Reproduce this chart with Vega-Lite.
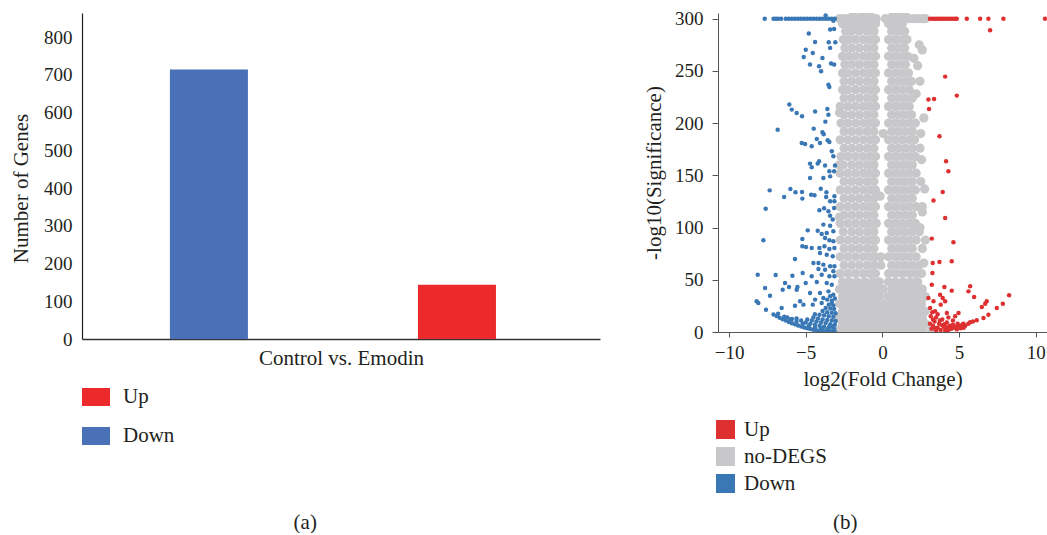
{
"$schema": "https://vega.github.io/schema/vega-lite/v6.json",
"padding": {"left": 10, "top": 9, "right": 0, "bottom": 0},
"background": "white",
"spacing": 118,
"bounds": "flush",
"resolve": {"scale": {"color": "independent"}, "legend": {"color": "independent"}},
"config": {
  "view": {"stroke": null},
  "font": "Liberation Serif",
  "style": {"guide-label": {"font": "Liberation Serif"}, "guide-title": {"font": "Liberation Serif"}},
  "axis": {"labelFont": "Liberation Serif", "titleFont": "Liberation Serif", "labelColor": "#231f20", "titleColor": "#231f20", "titleFontWeight": "normal", "grid": false},
  "legend": {"labelFont": "Liberation Serif", "labelColor": "#231f20"},
  "title": {"font": "Liberation Serif", "fontWeight": "normal", "fontSize": 21, "color": "#231f20"}
},
"datasets": {
  "bars": [
    {"group": "Control vs. Emodin", "reg": "Down", "genes": 714},
    {"group": "Control vs. Emodin", "reg": "Up", "genes": 144}
  ],
  "grey": [
    {"x":-2.8,"y":2},{"x":-2.35,"y":2},{"x":-1.9,"y":2},{"x":-1.4,"y":2},{"x":-0.9,"y":2},{"x":-0.4,"y":2},{"x":0.1,"y":2},{"x":0.6,"y":2},{"x":1.1,"y":2},{"x":1.6,"y":2},{"x":2.1,"y":2},{"x":2.6,"y":2},{"x":3.2,"y":2},
    {"x":-2.6,"y":8},{"x":-2.15,"y":8},{"x":-1.65,"y":8},{"x":-1.15,"y":8},{"x":-0.65,"y":8},{"x":-0.15,"y":8},{"x":0.35,"y":8},{"x":0.85,"y":8},{"x":1.35,"y":8},{"x":1.85,"y":8},{"x":2.35,"y":8},{"x":2.8,"y":8},
    {"x":-2.8,"y":14},{"x":-2.4,"y":14},{"x":-1.9,"y":14},{"x":-1.4,"y":14},{"x":-0.9,"y":14},{"x":-0.4,"y":14},{"x":0.1,"y":14},{"x":0.6,"y":14},{"x":1.1,"y":14},{"x":1.6,"y":14},{"x":2.1,"y":14},{"x":2.6,"y":14},
    {"x":-2.6,"y":20},{"x":-2.15,"y":20},{"x":-1.65,"y":20},{"x":-1.15,"y":20},{"x":-0.65,"y":20},{"x":-0.15,"y":20},{"x":0.35,"y":20},{"x":0.85,"y":20},{"x":1.35,"y":20},{"x":1.85,"y":20},{"x":2.35,"y":20},{"x":2.8,"y":20},
    {"x":-2.8,"y":27},{"x":-2.4,"y":27},{"x":-1.9,"y":27},{"x":-1.4,"y":27},{"x":-0.9,"y":27},{"x":-0.4,"y":27},{"x":0.1,"y":27},{"x":0.6,"y":27},{"x":1.1,"y":27},{"x":1.6,"y":27},{"x":2.1,"y":27},{"x":2.55,"y":27},
    {"x":-2.6,"y":34},{"x":-2.15,"y":34},{"x":-1.65,"y":34},{"x":-1.15,"y":34},{"x":-0.65,"y":34},{"x":-0.2,"y":34},{"x":0.35,"y":34},{"x":0.85,"y":34},{"x":1.35,"y":34},{"x":1.85,"y":34},{"x":2.3,"y":34},{"x":2.8,"y":34},
    {"x":-2.8,"y":41},{"x":-2.4,"y":41},{"x":-1.9,"y":41},{"x":-1.4,"y":41},{"x":-0.9,"y":41},{"x":-0.45,"y":41},{"x":0.05,"y":41},{"x":0.6,"y":41},{"x":1.1,"y":41},{"x":1.6,"y":41},{"x":2.1,"y":41},{"x":2.6,"y":41},
    {"x":-2.6,"y":48},{"x":-2.15,"y":48},{"x":-1.65,"y":48},{"x":-1.15,"y":48},{"x":-0.65,"y":48},{"x":-0.2,"y":48},{"x":0.4,"y":48},{"x":0.85,"y":48},{"x":1.35,"y":48},{"x":1.85,"y":48},{"x":2.3,"y":48},
    {"x":-2.75,"y":56},{"x":-2.25,"y":56},{"x":-1.75,"y":56},{"x":-1.25,"y":56},{"x":-0.8,"y":56},{"x":-0.45,"y":56},{"x":0.4,"y":56},{"x":0.85,"y":56},{"x":1.3,"y":56},{"x":1.75,"y":56},{"x":2.15,"y":56},{"x":2.55,"y":56},
    {"x":-2.5,"y":64},{"x":-2.0,"y":64},{"x":-1.5,"y":64},{"x":-1.0,"y":64},{"x":-0.55,"y":64},{"x":-0.1,"y":64},{"x":0.6,"y":64},{"x":1.05,"y":64},{"x":1.5,"y":64},{"x":1.95,"y":64},{"x":2.4,"y":64},
    {"x":-2.75,"y":72},{"x":-2.25,"y":72},{"x":-1.75,"y":72},{"x":-1.25,"y":72},{"x":-0.8,"y":72},{"x":-0.45,"y":72},{"x":0.4,"y":72},{"x":0.85,"y":72},{"x":1.3,"y":72},{"x":1.75,"y":72},{"x":2.2,"y":72},
    {"x":-2.5,"y":80},{"x":-2.0,"y":80},{"x":-1.5,"y":80},{"x":-1.0,"y":80},{"x":-0.55,"y":80},{"x":0.6,"y":80},{"x":1.05,"y":80},{"x":1.5,"y":80},{"x":1.95,"y":80},{"x":2.6,"y":80},
    {"x":-2.75,"y":88},{"x":-2.25,"y":88},{"x":-1.75,"y":88},{"x":-1.25,"y":88},{"x":-0.8,"y":88},{"x":-0.45,"y":88},{"x":0.4,"y":88},{"x":0.85,"y":88},{"x":1.3,"y":88},{"x":1.75,"y":88},{"x":2.2,"y":88},
    {"x":-2.55,"y":96},{"x":-2.0,"y":96},{"x":-1.5,"y":96},{"x":-1.0,"y":96},{"x":-0.55,"y":96},{"x":0.6,"y":96},{"x":1.05,"y":96},{"x":1.5,"y":96},{"x":1.95,"y":96},{"x":2.4,"y":96},
    {"x":-2.75,"y":104},{"x":-2.25,"y":104},{"x":-1.75,"y":104},{"x":-1.25,"y":104},{"x":-0.8,"y":104},{"x":-0.4,"y":104},{"x":0.4,"y":104},{"x":0.85,"y":104},{"x":1.3,"y":104},{"x":1.75,"y":104},{"x":2.15,"y":104},
    {"x":-2.5,"y":112},{"x":-2.0,"y":112},{"x":-1.5,"y":112},{"x":-1.0,"y":112},{"x":-0.55,"y":112},{"x":0.6,"y":112},{"x":1.05,"y":112},{"x":1.5,"y":112},{"x":1.95,"y":112},
    {"x":-2.75,"y":120},{"x":-2.25,"y":120},{"x":-1.75,"y":120},{"x":-1.25,"y":120},{"x":-0.8,"y":120},{"x":-0.45,"y":120},{"x":0.4,"y":120},{"x":0.85,"y":120},{"x":1.3,"y":120},{"x":1.75,"y":120},{"x":2.2,"y":120},{"x":2.6,"y":120},
    {"x":-2.5,"y":128},{"x":-2.0,"y":128},{"x":-1.5,"y":128},{"x":-1.0,"y":128},{"x":-0.55,"y":128},{"x":0.6,"y":128},{"x":1.05,"y":128},{"x":1.5,"y":128},{"x":1.95,"y":128},
    {"x":-2.75,"y":136},{"x":-2.25,"y":136},{"x":-1.75,"y":136},{"x":-1.25,"y":136},{"x":-0.8,"y":136},{"x":-0.45,"y":136},{"x":0.4,"y":136},{"x":0.85,"y":136},{"x":1.3,"y":136},{"x":1.75,"y":136},{"x":2.15,"y":136},
    {"x":-2.5,"y":144},{"x":-2.0,"y":144},{"x":-1.5,"y":144},{"x":-1.0,"y":144},{"x":-0.55,"y":144},{"x":0.6,"y":144},{"x":1.05,"y":144},{"x":1.5,"y":144},{"x":1.95,"y":144},{"x":2.5,"y":144},
    {"x":-2.75,"y":152},{"x":-2.25,"y":152},{"x":-1.75,"y":152},{"x":-1.25,"y":152},{"x":-0.8,"y":152},{"x":-0.45,"y":152},{"x":0.4,"y":152},{"x":0.85,"y":152},{"x":1.3,"y":152},{"x":1.75,"y":152},{"x":2.2,"y":152},
    {"x":-2.55,"y":160},{"x":-2.0,"y":160},{"x":-1.5,"y":160},{"x":-1.0,"y":160},{"x":-0.55,"y":160},{"x":0.6,"y":160},{"x":1.05,"y":160},{"x":1.5,"y":160},{"x":1.95,"y":160},
    {"x":-2.7,"y":168},{"x":-2.25,"y":168},{"x":-1.75,"y":168},{"x":-1.25,"y":168},{"x":-0.8,"y":168},{"x":-0.45,"y":168},{"x":0.4,"y":168},{"x":0.85,"y":168},{"x":1.3,"y":168},{"x":1.75,"y":168},{"x":2.15,"y":168},
    {"x":-2.5,"y":176},{"x":-2.0,"y":176},{"x":-1.5,"y":176},{"x":-1.0,"y":176},{"x":-0.55,"y":176},{"x":0.6,"y":176},{"x":1.05,"y":176},{"x":1.5,"y":176},{"x":1.95,"y":176},{"x":2.45,"y":176},
    {"x":-2.75,"y":184},{"x":-2.25,"y":184},{"x":-1.75,"y":184},{"x":-1.25,"y":184},{"x":-0.8,"y":184},{"x":-0.45,"y":184},{"x":0.4,"y":184},{"x":0.85,"y":184},{"x":1.3,"y":184},{"x":1.75,"y":184},{"x":2.1,"y":184},
    {"x":-2.5,"y":192},{"x":-2.0,"y":192},{"x":-1.5,"y":192},{"x":-1.0,"y":192},{"x":-0.55,"y":192},{"x":0.6,"y":192},{"x":1.05,"y":192},{"x":1.5,"y":192},{"x":1.95,"y":192},
    {"x":-2.7,"y":200},{"x":-2.25,"y":200},{"x":-1.75,"y":200},{"x":-1.25,"y":200},{"x":-0.8,"y":200},{"x":-0.45,"y":200},{"x":0.4,"y":200},{"x":0.85,"y":200},{"x":1.3,"y":200},{"x":1.75,"y":200},{"x":2.15,"y":200},
    {"x":-2.5,"y":208},{"x":-2.0,"y":208},{"x":-1.5,"y":208},{"x":-1.0,"y":208},{"x":-0.55,"y":208},{"x":0.6,"y":208},{"x":1.05,"y":208},{"x":1.5,"y":208},{"x":1.9,"y":208},
    {"x":-2.75,"y":216},{"x":-2.25,"y":216},{"x":-1.75,"y":216},{"x":-1.25,"y":216},{"x":-0.8,"y":216},{"x":-0.45,"y":216},{"x":0.4,"y":216},{"x":0.85,"y":216},{"x":1.3,"y":216},{"x":1.75,"y":216},
    {"x":-2.5,"y":224},{"x":-2.0,"y":224},{"x":-1.5,"y":224},{"x":-1.0,"y":224},{"x":-0.55,"y":224},{"x":0.6,"y":224},{"x":1.05,"y":224},{"x":1.5,"y":224},{"x":1.95,"y":224},
    {"x":-2.6,"y":232},{"x":-2.25,"y":232},{"x":-1.75,"y":232},{"x":-1.25,"y":232},{"x":-0.8,"y":232},{"x":-0.45,"y":232},{"x":0.4,"y":232},{"x":0.85,"y":232},{"x":1.3,"y":232},{"x":1.75,"y":232},
    {"x":-2.5,"y":240},{"x":-2.0,"y":240},{"x":-1.5,"y":240},{"x":-1.0,"y":240},{"x":-0.55,"y":240},{"x":0.6,"y":240},{"x":1.05,"y":240},{"x":1.5,"y":240},{"x":1.9,"y":240},
    {"x":-2.6,"y":248},{"x":-2.25,"y":248},{"x":-1.75,"y":248},{"x":-1.25,"y":248},{"x":-0.8,"y":248},{"x":-0.45,"y":248},{"x":0.4,"y":248},{"x":0.85,"y":248},{"x":1.3,"y":248},{"x":1.7,"y":248},
    {"x":-2.45,"y":256},{"x":-2.0,"y":256},{"x":-1.5,"y":256},{"x":-1.0,"y":256},{"x":-0.55,"y":256},{"x":0.6,"y":256},{"x":1.05,"y":256},{"x":1.5,"y":256},
    {"x":-2.6,"y":264},{"x":-2.2,"y":264},{"x":-1.75,"y":264},{"x":-1.25,"y":264},{"x":-0.8,"y":264},{"x":-0.45,"y":264},{"x":0.4,"y":264},{"x":0.85,"y":264},{"x":1.3,"y":264},{"x":1.65,"y":264},
    {"x":-2.45,"y":272},{"x":-2.0,"y":272},{"x":-1.5,"y":272},{"x":-1.0,"y":272},{"x":-0.55,"y":272},{"x":0.6,"y":272},{"x":1.05,"y":272},{"x":1.45,"y":272},
    {"x":-2.55,"y":280},{"x":-2.2,"y":280},{"x":-1.75,"y":280},{"x":-1.25,"y":280},{"x":-0.8,"y":280},{"x":-0.45,"y":280},{"x":0.4,"y":280},{"x":0.85,"y":280},{"x":1.3,"y":280},{"x":1.6,"y":280},
    {"x":-2.4,"y":288},{"x":-2.0,"y":288},{"x":-1.5,"y":288},{"x":-1.0,"y":288},{"x":-0.55,"y":288},{"x":0.6,"y":288},{"x":1.05,"y":288},{"x":1.45,"y":288},
    {"x":-2.6,"y":295},{"x":-2.2,"y":295},{"x":-1.75,"y":295},{"x":-1.25,"y":295},{"x":-0.8,"y":295},{"x":-0.45,"y":295},{"x":0.4,"y":295},{"x":0.85,"y":295},{"x":1.3,"y":295},
    {"x":-2.8,"y":300},{"x":-2.5,"y":300},{"x":-2.2,"y":300},{"x":-1.9,"y":300},{"x":-1.6,"y":300},{"x":-1.3,"y":300},{"x":-1.0,"y":300},{"x":-0.7,"y":300},{"x":-0.4,"y":300},{"x":0.2,"y":300},{"x":0.5,"y":300},{"x":0.8,"y":300},{"x":1.1,"y":300},{"x":1.4,"y":300},{"x":1.7,"y":300},{"x":2.0,"y":300},{"x":2.3,"y":300},{"x":2.6,"y":300},{"x":2.8,"y":300},
    {"x":-1.9,"y":303},{"x":-1.3,"y":303},{"x":-0.8,"y":303},{"x":0.7,"y":303},{"x":1.1,"y":303},{"x":1.5,"y":303},
    {"x":2.4,"y":275},{"x":2.6,"y":270},{"x":2.3,"y":255},{"x":2.45,"y":240},{"x":2.7,"y":205},{"x":2.5,"y":190},{"x":2.55,"y":165},{"x":2.75,"y":137},{"x":2.6,"y":115},{"x":2.45,"y":100},{"x":2.8,"y":88},{"x":2.7,"y":66},{"x":2.2,"y":228},{"x":2.05,"y":262},{"x":-0.15,"y":130},{"x":0.05,"y":190},{"x":-0.1,"y":72},{"x":-2.8,"y":160},{"x":-2.8,"y":110},{"x":-2.8,"y":210}
  ],
  "degs": [
    {"x":-7.67,"y":300,"t":"Down"},{"x":-7.1,"y":300,"t":"Down"},{"x":-6.95,"y":300,"t":"Down"},{"x":-6.8,"y":300,"t":"Down"},{"x":-6.6,"y":300,"t":"Down"},{"x":-6.3,"y":300,"t":"Down"},{"x":-6.1,"y":300,"t":"Down"},{"x":-5.9,"y":300,"t":"Down"},{"x":-5.7,"y":300,"t":"Down"},{"x":-5.5,"y":300,"t":"Down"},{"x":-5.3,"y":300,"t":"Down"},{"x":-5.1,"y":300,"t":"Down"},{"x":-4.9,"y":300,"t":"Down"},{"x":-4.7,"y":300,"t":"Down"},{"x":-4.5,"y":300,"t":"Down"},{"x":-4.3,"y":300,"t":"Down"},{"x":-4.1,"y":300,"t":"Down"},{"x":-3.9,"y":300,"t":"Down"},{"x":-3.7,"y":300,"t":"Down"},{"x":-3.5,"y":300,"t":"Down"},{"x":-3.3,"y":300,"t":"Down"},{"x":-3.1,"y":300,"t":"Down"},{"x":-3.7,"y":303,"t":"Down"},{"x":-3.2,"y":298,"t":"Down"},
    {"x":-4.8,"y":285.7,"t":"Down"},{"x":-4.39,"y":277.7,"t":"Down"},{"x":-5.0,"y":270.3,"t":"Down"},{"x":-4.54,"y":267.2,"t":"Down"},{"x":-5.13,"y":263.3,"t":"Down"},{"x":-4.72,"y":256,"t":"Down"},{"x":-3.91,"y":262.4,"t":"Down"},{"x":-4.13,"y":254.4,"t":"Down"},{"x":-4.0,"y":249.6,"t":"Down"},{"x":-3.41,"y":289.5,"t":"Down"},{"x":-3.15,"y":290,"t":"Down"},{"x":-3.5,"y":277.4,"t":"Down"},{"x":-3.07,"y":277.4,"t":"Down"},{"x":-3.41,"y":272,"t":"Down"},{"x":-3.35,"y":257,"t":"Down"},{"x":-3.15,"y":256,"t":"Down"},{"x":-3.52,"y":236.8,"t":"Down"},{"x":-3.46,"y":234.6,"t":"Down"},
    {"x":-6.07,"y":217.7,"t":"Down"},{"x":-5.91,"y":212.9,"t":"Down"},{"x":-5.59,"y":209.7,"t":"Down"},{"x":-5.24,"y":206.5,"t":"Down"},{"x":-4.39,"y":211,"t":"Down"},{"x":-3.59,"y":213.5,"t":"Down"},{"x":-3.52,"y":208,"t":"Down"},{"x":-3.72,"y":201.4,"t":"Down"},{"x":-6.83,"y":193.7,"t":"Down"},{"x":-4.48,"y":194.7,"t":"Down"},{"x":-3.91,"y":191.2,"t":"Down"},{"x":-3.83,"y":189.3,"t":"Down"},{"x":-4.28,"y":184.8,"t":"Down"},{"x":-4.07,"y":181,"t":"Down"},{"x":-3.57,"y":183.5,"t":"Down"},{"x":-3.46,"y":182,"t":"Down"},{"x":-5.26,"y":181,"t":"Down"},{"x":-5.04,"y":180,"t":"Down"},{"x":-4.61,"y":177.8,"t":"Down"},{"x":-3.3,"y":173,"t":"Down"},{"x":-3.2,"y":168.2,"t":"Down"},{"x":-4.13,"y":163.4,"t":"Down"},{"x":-4.72,"y":161.2,"t":"Down"},{"x":-4.22,"y":161.2,"t":"Down"},{"x":-4.61,"y":157.7,"t":"Down"},{"x":-3.74,"y":159.3,"t":"Down"},{"x":-3.09,"y":159.3,"t":"Down"},{"x":-3.46,"y":153.8,"t":"Down"},{"x":-3.15,"y":153.8,"t":"Down"},{"x":-4.72,"y":147.5,"t":"Down"},{"x":-3.85,"y":147.5,"t":"Down"},{"x":-3.41,"y":149,"t":"Down"},
    {"x":-7.35,"y":135.6,"t":"Down"},{"x":-6.0,"y":136.9,"t":"Down"},{"x":-5.67,"y":133.7,"t":"Down"},{"x":-5.24,"y":134,"t":"Down"},{"x":-6.41,"y":129.3,"t":"Down"},{"x":-5.22,"y":127.7,"t":"Down"},{"x":-4.65,"y":131.5,"t":"Down"},{"x":-4.43,"y":130.9,"t":"Down"},{"x":-4.02,"y":137.2,"t":"Down"},{"x":-3.65,"y":133.7,"t":"Down"},{"x":-3.67,"y":129.3,"t":"Down"},{"x":-3.13,"y":129.9,"t":"Down"},{"x":-3.41,"y":125.1,"t":"Down"},{"x":-3.13,"y":125.1,"t":"Down"},{"x":-7.61,"y":118.1,"t":"Down"},{"x":-4.11,"y":116.5,"t":"Down"},{"x":-3.8,"y":118.4,"t":"Down"},{"x":-3.52,"y":115.5,"t":"Down"},{"x":-3.15,"y":118.7,"t":"Down"},{"x":-3.41,"y":111.4,"t":"Down"},{"x":-3.24,"y":107.6,"t":"Down"},{"x":-3.85,"y":102.8,"t":"Down"},{"x":-3.41,"y":101.8,"t":"Down"},{"x":-4.87,"y":97.3,"t":"Down"},{"x":-4.22,"y":97,"t":"Down"},{"x":-3.96,"y":93.8,"t":"Down"},{"x":-3.63,"y":94.8,"t":"Down"},{"x":-3.2,"y":96.4,"t":"Down"},{"x":-7.76,"y":87.8,"t":"Down"},{"x":-5.22,"y":89,"t":"Down"},{"x":-3.74,"y":90,"t":"Down"},{"x":-3.46,"y":87.8,"t":"Down"},{"x":-3.2,"y":86.8,"t":"Down"},
    {"x":-5.22,"y":82,"t":"Down"},{"x":-4.98,"y":81.4,"t":"Down"},{"x":-4.61,"y":80.4,"t":"Down"},{"x":-4.11,"y":80.4,"t":"Down"},{"x":-3.78,"y":82,"t":"Down"},{"x":-3.46,"y":79.5,"t":"Down"},{"x":-3.13,"y":80.4,"t":"Down"},{"x":-4.07,"y":75.6,"t":"Down"},{"x":-3.63,"y":74,"t":"Down"},{"x":-3.24,"y":72.5,"t":"Down"},{"x":-5.7,"y":69.9,"t":"Down"},{"x":-4.5,"y":66.1,"t":"Down"},{"x":-4.17,"y":66.1,"t":"Down"},{"x":-3.85,"y":64.5,"t":"Down"},{"x":-3.41,"y":62.9,"t":"Down"},{"x":-3.13,"y":62.9,"t":"Down"},{"x":-4.17,"y":60.3,"t":"Down"},{"x":-3.74,"y":59.7,"t":"Down"},{"x":-3.2,"y":58.1,"t":"Down"},
    {"x":-8.13,"y":54.9,"t":"Down"},{"x":-6.96,"y":54.6,"t":"Down"},{"x":-5.87,"y":53.9,"t":"Down"},{"x":-5.2,"y":56.5,"t":"Down"},{"x":-4.61,"y":53.3,"t":"Down"},{"x":-3.96,"y":54.9,"t":"Down"},{"x":-3.46,"y":53.3,"t":"Down"},{"x":-3.13,"y":53.3,"t":"Down"},{"x":-7.65,"y":42.1,"t":"Down"},{"x":-6.35,"y":46.9,"t":"Down"},{"x":-6.09,"y":43.1,"t":"Down"},{"x":-5.54,"y":43.1,"t":"Down"},{"x":-5.0,"y":46.9,"t":"Down"},{"x":-4.28,"y":47.9,"t":"Down"},{"x":-3.63,"y":46.9,"t":"Down"},{"x":-3.3,"y":45.3,"t":"Down"},{"x":-7.33,"y":34.8,"t":"Down"},{"x":-6.5,"y":40.5,"t":"Down"},{"x":-8.2,"y":29.4,"t":"Down"},{"x":-8.09,"y":27.8,"t":"Down"},{"x":-5.59,"y":40.5,"t":"Down"},{"x":-4.72,"y":37.3,"t":"Down"},{"x":-4.07,"y":37.3,"t":"Down"},{"x":-3.52,"y":38.9,"t":"Down"},{"x":-3.2,"y":35.7,"t":"Down"},{"x":-5.37,"y":29.4,"t":"Down"},{"x":-4.39,"y":31,"t":"Down"},{"x":-3.85,"y":32.6,"t":"Down"},{"x":-3.41,"y":34.2,"t":"Down"},{"x":-7.59,"y":21.4,"t":"Down"},{"x":-6.57,"y":23,"t":"Down"},{"x":-5.7,"y":25.2,"t":"Down"},{"x":-5.15,"y":26.2,"t":"Down"},{"x":-4.54,"y":26.2,"t":"Down"},{"x":-3.96,"y":27.8,"t":"Down"},{"x":-3.3,"y":27.8,"t":"Down"},
    {"x":-7.1,"y":16.8,"t":"Down"},{"x":-6.9,"y":15.2,"t":"Down"},{"x":-6.7,"y":13.7,"t":"Down"},{"x":-6.5,"y":12.2,"t":"Down"},{"x":-6.3,"y":10.9,"t":"Down"},{"x":-6.1,"y":9.6,"t":"Down"},{"x":-5.9,"y":8.4,"t":"Down"},{"x":-5.7,"y":7.3,"t":"Down"},{"x":-5.5,"y":6.2,"t":"Down"},{"x":-5.3,"y":5.3,"t":"Down"},{"x":-5.1,"y":4.4,"t":"Down"},{"x":-4.9,"y":3.6,"t":"Down"},{"x":-4.7,"y":2.9,"t":"Down"},{"x":-4.5,"y":2.2,"t":"Down"},{"x":-4.3,"y":1.7,"t":"Down"},{"x":-4.1,"y":1.2,"t":"Down"},{"x":-3.9,"y":0.8,"t":"Down"},{"x":-3.7,"y":0.5,"t":"Down"},{"x":-3.5,"y":0.3,"t":"Down"},{"x":-3.3,"y":0.2,"t":"Down"},{"x":-3.1,"y":0.1,"t":"Down"},
    {"x":-6.8,"y":17.5,"t":"Down"},{"x":-6.4,"y":14.5,"t":"Down"},{"x":-6.0,"y":12,"t":"Down"},{"x":-5.6,"y":9.8,"t":"Down"},{"x":-5.2,"y":7.8,"t":"Down"},{"x":-4.8,"y":6,"t":"Down"},{"x":-4.4,"y":4.5,"t":"Down"},{"x":-4.0,"y":3.2,"t":"Down"},{"x":-3.6,"y":2.2,"t":"Down"},{"x":-3.2,"y":1.5,"t":"Down"},
    {"x":-5.0,"y":9,"t":"Down"},{"x":-4.7,"y":8,"t":"Down"},{"x":-4.4,"y":7,"t":"Down"},{"x":-4.1,"y":6,"t":"Down"},{"x":-3.8,"y":5,"t":"Down"},{"x":-3.5,"y":4.5,"t":"Down"},{"x":-3.2,"y":4,"t":"Down"},{"x":-4.9,"y":12,"t":"Down"},{"x":-4.6,"y":11,"t":"Down"},{"x":-4.3,"y":10,"t":"Down"},{"x":-4.0,"y":9,"t":"Down"},{"x":-3.7,"y":8.5,"t":"Down"},{"x":-3.4,"y":7.5,"t":"Down"},{"x":-3.1,"y":7,"t":"Down"},{"x":-4.5,"y":14,"t":"Down"},{"x":-4.2,"y":13,"t":"Down"},{"x":-3.9,"y":12,"t":"Down"},{"x":-3.6,"y":11.5,"t":"Down"},{"x":-3.3,"y":11,"t":"Down"},{"x":-3.05,"y":10.5,"t":"Down"},{"x":-4.4,"y":17,"t":"Down"},{"x":-4.1,"y":16.5,"t":"Down"},{"x":-3.8,"y":16,"t":"Down"},{"x":-3.5,"y":15,"t":"Down"},{"x":-3.2,"y":14.5,"t":"Down"},{"x":-3.9,"y":20,"t":"Down"},{"x":-3.6,"y":19,"t":"Down"},{"x":-3.3,"y":18.5,"t":"Down"},{"x":-3.05,"y":18,"t":"Down"},{"x":-3.7,"y":23,"t":"Down"},{"x":-3.4,"y":22.5,"t":"Down"},{"x":-3.15,"y":22,"t":"Down"},{"x":-3.5,"y":26,"t":"Down"},{"x":-3.2,"y":25.5,"t":"Down"},{"x":-3.3,"y":30,"t":"Down"},{"x":-3.1,"y":32,"t":"Down"},{"x":-3.6,"y":31,"t":"Down"},{"x":-5.6,"y":13,"t":"Down"},{"x":-5.3,"y":11,"t":"Down"},{"x":-6.2,"y":14,"t":"Down"},{"x":-5.9,"y":12.5,"t":"Down"},{"x":-3.5,"y":2.5,"t":"Down"},{"x":-3.9,"y":3.5,"t":"Down"},{"x":-3.3,"y":5.5,"t":"Down"},{"x":-3.15,"y":3,"t":"Down"},
    {"x":3.1,"y":300,"t":"Up"},{"x":3.25,"y":300,"t":"Up"},{"x":3.4,"y":300,"t":"Up"},{"x":3.55,"y":300,"t":"Up"},{"x":3.7,"y":300,"t":"Up"},{"x":3.85,"y":300,"t":"Up"},{"x":4.0,"y":300,"t":"Up"},{"x":4.15,"y":300,"t":"Up"},{"x":4.3,"y":300,"t":"Up"},{"x":4.45,"y":300,"t":"Up"},{"x":4.6,"y":300,"t":"Up"},{"x":4.75,"y":300,"t":"Up"},{"x":4.85,"y":300,"t":"Up"},{"x":5.5,"y":300,"t":"Up"},{"x":6.37,"y":300,"t":"Up"},{"x":6.91,"y":300,"t":"Up"},{"x":7.89,"y":300,"t":"Up"},{"x":10.6,"y":300,"t":"Up"},{"x":7.02,"y":288.9,"t":"Up"},
    {"x":4.09,"y":244.5,"t":"Up"},{"x":4.85,"y":226.3,"t":"Up"},{"x":3.0,"y":222.5,"t":"Up"},{"x":3.37,"y":223.1,"t":"Up"},{"x":3.04,"y":213.5,"t":"Up"},{"x":3.72,"y":187.4,"t":"Up"},{"x":4.15,"y":163.4,"t":"Up"},{"x":4.3,"y":153.8,"t":"Up"},{"x":3.93,"y":134,"t":"Up"},{"x":3.33,"y":125.8,"t":"Up"},{"x":4.09,"y":109.2,"t":"Up"},{"x":3.22,"y":89.4,"t":"Up"},{"x":4.63,"y":85.9,"t":"Up"},{"x":3.28,"y":66.1,"t":"Up"},{"x":3.72,"y":67,"t":"Up"},{"x":4.52,"y":67.7,"t":"Up"},{"x":3.26,"y":56.5,"t":"Up"},{"x":3.22,"y":45.3,"t":"Up"},{"x":4.04,"y":43.1,"t":"Up"},{"x":4.52,"y":39.6,"t":"Up"},{"x":5.72,"y":43.7,"t":"Up"},{"x":5.61,"y":38.9,"t":"Up"},{"x":5.98,"y":33.5,"t":"Up"},{"x":8.26,"y":35.1,"t":"Up"},{"x":3.76,"y":35.7,"t":"Up"},{"x":3.93,"y":32.6,"t":"Up"},{"x":3.0,"y":32.6,"t":"Up"},{"x":3.33,"y":29.4,"t":"Up"},{"x":3.8,"y":26.2,"t":"Up"},{"x":4.09,"y":29.4,"t":"Up"},{"x":3.11,"y":23,"t":"Up"},{"x":3.43,"y":19.8,"t":"Up"},{"x":4.2,"y":18.2,"t":"Up"},{"x":4.96,"y":18.2,"t":"Up"},{"x":4.74,"y":15,"t":"Up"},{"x":6.8,"y":29.4,"t":"Up"},{"x":6.7,"y":27.1,"t":"Up"},{"x":6.48,"y":23.9,"t":"Up"},{"x":7.85,"y":27.1,"t":"Up"},{"x":7.46,"y":23,"t":"Up"},{"x":6.91,"y":16.6,"t":"Up"},{"x":6.59,"y":13.4,"t":"Up"},{"x":6.15,"y":11.2,"t":"Up"},{"x":5.72,"y":9.3,"t":"Up"},{"x":5.28,"y":8,"t":"Up"},
    {"x":3.2,"y":3,"t":"Up"},{"x":3.3,"y":6,"t":"Up"},{"x":3.4,"y":10,"t":"Up"},{"x":3.5,"y":14,"t":"Up"},{"x":3.6,"y":4,"t":"Up"},{"x":3.7,"y":8,"t":"Up"},{"x":3.8,"y":2,"t":"Up"},{"x":3.9,"y":12,"t":"Up"},{"x":4.0,"y":5,"t":"Up"},{"x":4.1,"y":3,"t":"Up"},{"x":4.2,"y":9,"t":"Up"},{"x":4.3,"y":2,"t":"Up"},{"x":4.4,"y":6,"t":"Up"},{"x":4.5,"y":3,"t":"Up"},{"x":4.6,"y":11,"t":"Up"},{"x":4.7,"y":4,"t":"Up"},{"x":4.8,"y":5,"t":"Up"},{"x":4.9,"y":8,"t":"Up"},{"x":5.0,"y":6,"t":"Up"},{"x":5.2,"y":7,"t":"Up"},{"x":5.4,"y":6,"t":"Up"},{"x":5.6,"y":8,"t":"Up"},{"x":5.9,"y":10,"t":"Up"},{"x":3.15,"y":15,"t":"Up"},{"x":3.25,"y":19,"t":"Up"},{"x":3.6,"y":17,"t":"Up"},{"x":4.3,"y":14,"t":"Up"},{"x":4.6,"y":7,"t":"Up"},{"x":3.5,"y":1.5,"t":"Up"},{"x":4.1,"y":1,"t":"Up"},{"x":3.9,"y":6.5,"t":"Up"},{"x":4.25,"y":4.5,"t":"Up"},{"x":3.45,"y":3.5,"t":"Up"},{"x":3.75,"y":11,"t":"Up"},{"x":4.05,"y":7.5,"t":"Up"},{"x":4.55,"y":5.5,"t":"Up"},{"x":4.85,"y":2.5,"t":"Up"},{"x":5.1,"y":3.5,"t":"Up"},{"x":5.3,"y":4,"t":"Up"},{"x":3.3,"y":12,"t":"Up"},{"x":3.1,"y":8,"t":"Up"}
  ]
},
"hconcat": [
  {
    "width": 518,
    "height": 326,
    "data": {"name": "bars"},
    "mark": {"type": "bar"},
    "encoding": {
      "x": {"field": "reg", "type": "nominal", "sort": ["Down", "Up"],
        "scale": {"paddingInner": 0.6855, "paddingOuter": 0.387, "align": 0.458},
        "axis": {"title": "Control vs. Emodin", "labels": false, "ticks": false, "domainColor": "#333333", "domainWidth": 1.5, "titleFont": "Liberation Serif, serif", "titleFontSize": 21, "titlePadding": 8}},
      "y": {"field": "genes", "type": "quantitative",
        "scale": {"domain": [0, 864], "nice": false},
        "axis": {"values": [0, 100, 200, 300, 400, 500, 600, 700, 800], "ticks": false, "domainColor": "#231f20", "domainWidth": 1.2, "labelFont": "Liberation Serif, serif", "labelFontSize": 19, "labelPadding": 10, "title": "Number of Genes", "titleFont": "Liberation Serif, serif", "titleFontSize": 21, "titlePadding": 12, "titleY": 175}},
      "color": {"field": "reg", "type": "nominal",
        "scale": {"domain": ["Up", "Down"], "range": ["#ed2a2b", "#4a70b7"]},
        "legend": {"title": null, "orient": "none", "legendX": 0, "legendY": 370, "symbolType": "M-1,-0.643H1V0.643H-1Z", "symbolSize": 784, "symbolStrokeWidth": 0, "symbolOpacity": 1, "labelFont": "Liberation Serif, serif", "labelFontSize": 21, "labelOffset": 13, "rowPadding": 15}}
    },
    "title": {"text": "(a)", "orient": "bottom", "anchor": "middle", "frame": "bounds", "offset": 66}
  },
  {
    "width": 329,
    "height": 319,
    "layer": [
      {
        "data": {"name": "grey"},
        "mark": {"type": "circle", "size": 85, "opacity": 1, "clip": true},
        "encoding": {
          "x": {"field": "x", "type": "quantitative"},
          "y": {"field": "y", "type": "quantitative"},
          "color": {"datum": "no-DEGS"}
        }
      },
      {
        "data": {"name": "degs"},
        "mark": {"type": "circle", "size": 20, "opacity": 1, "clip": true},
        "encoding": {
          "x": {"field": "x", "type": "quantitative"},
          "y": {"field": "y", "type": "quantitative"},
          "color": {"field": "t", "type": "nominal"}
        }
      }
    ],
    "encoding": {
      "x": {"field": "x", "type": "quantitative",
        "scale": {"domain": [-10.72, 10.73], "nice": false, "zero": false},
        "axis": {"values": [-10, -5, 0, 5, 10], "title": "log2(Fold Change)", "domainColor": "#555555", "tickColor": "#555555", "tickSize": 5, "labelFont": "Liberation Serif, serif", "labelFontSize": 19, "labelPadding": 6, "titleFont": "Liberation Serif, serif", "titleFontSize": 21, "titlePadding": 6}},
      "y": {"field": "y", "type": "quantitative",
        "scale": {"domain": [0, 305.4], "nice": false},
        "axis": {"values": [0, 50, 100, 150, 200, 250, 300], "title": "-log10(Significance)", "domainColor": "#555555", "tickColor": "#555555", "tickSize": 6, "labelFont": "Liberation Serif, serif", "labelFontSize": 19, "labelPadding": 9, "titleFont": "Liberation Serif, serif", "titleFontSize": 21, "titlePadding": 10}},
      "color": {"type": "nominal",
        "scale": {"domain": ["Up", "no-DEGS", "Down"], "range": ["#de3030", "#c8c8ca", "#3a78b5"]},
        "legend": {"title": null, "orient": "none", "legendX": -3, "legendY": 406, "symbolType": "square", "symbolSize": 361, "symbolStrokeWidth": 0, "symbolOpacity": 1, "labelFont": "Liberation Serif, serif", "labelFontSize": 21, "labelOffset": 8, "rowPadding": 5}}
    },
    "title": {"text": "(b)", "orient": "bottom", "anchor": "middle", "frame": "bounds", "offset": 18}
  }
]
}
